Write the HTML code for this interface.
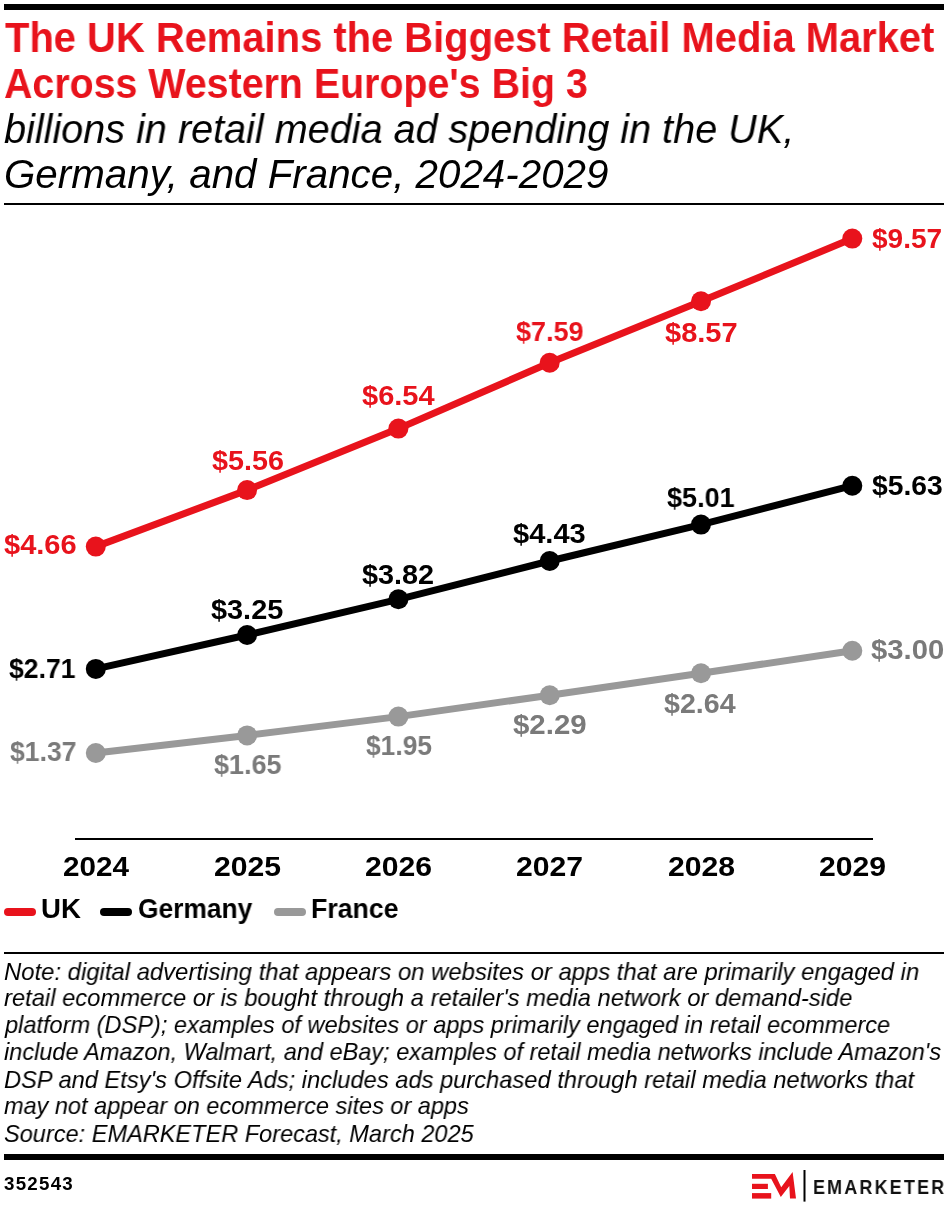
<!DOCTYPE html>
<html><head><meta charset="utf-8"><style>
html,body{margin:0;padding:0;background:#fff;}
body{width:948px;height:1206px;position:relative;overflow:hidden;font-family:"Liberation Sans",sans-serif;}
.a{position:absolute;}
.bar{position:absolute;background:#000;}
.t{position:absolute;line-height:1;white-space:nowrap;transform-origin:0 0;will-change:transform;}
.pill{position:absolute;height:8px;width:32px;border-radius:4px;top:908px;}
</style></head><body>
<div class="bar" style="left:4px;top:4px;width:940px;height:6px"></div>
<div class="bar" style="left:4px;top:203px;width:940px;height:2px"></div>
<svg class="a" style="left:0;top:0" width="948" height="1206" viewBox="0 0 948 1206">
<rect x="75" y="838" width="798" height="2" fill="#000"/>
<polyline points="95.8,546.6 247.1,490.1 398.4,428.6 549.7,362.8 701.0,301.3 852.3,238.6" fill="none" stroke="#E8131C" stroke-width="7" stroke-linejoin="round"/><circle cx="95.8" cy="546.6" r="10" fill="#E8131C"/><circle cx="247.1" cy="490.1" r="10" fill="#E8131C"/><circle cx="398.4" cy="428.6" r="10" fill="#E8131C"/><circle cx="549.7" cy="362.8" r="10" fill="#E8131C"/><circle cx="701.0" cy="301.3" r="10" fill="#E8131C"/><circle cx="852.3" cy="238.6" r="10" fill="#E8131C"/><polyline points="95.8,668.9 247.1,635.0 398.4,599.3 549.7,561.0 701.0,524.6 852.3,485.7" fill="none" stroke="#000000" stroke-width="7" stroke-linejoin="round"/><circle cx="95.8" cy="668.9" r="10" fill="#000000"/><circle cx="247.1" cy="635.0" r="10" fill="#000000"/><circle cx="398.4" cy="599.3" r="10" fill="#000000"/><circle cx="549.7" cy="561.0" r="10" fill="#000000"/><circle cx="701.0" cy="524.6" r="10" fill="#000000"/><circle cx="852.3" cy="485.7" r="10" fill="#000000"/><polyline points="95.8,753.0 247.1,735.4 398.4,716.6 549.7,695.2 701.0,673.3 852.3,650.7" fill="none" stroke="#999999" stroke-width="7" stroke-linejoin="round"/><circle cx="95.8" cy="753.0" r="10" fill="#999999"/><circle cx="247.1" cy="735.4" r="10" fill="#999999"/><circle cx="398.4" cy="716.6" r="10" fill="#999999"/><circle cx="549.7" cy="695.2" r="10" fill="#999999"/><circle cx="701.0" cy="673.3" r="10" fill="#999999"/><circle cx="852.3" cy="650.7" r="10" fill="#999999"/>
</svg>
<div class="t" style="font:bold 42px 'Liberation Sans';line-height:1;letter-spacing:0px;color:#E8131C;left:5.00px;top:17.00px;transform:scaleX(0.9504)">The UK Remains the Biggest Retail Media Market</div>
<div class="t" style="font:bold 42px 'Liberation Sans';line-height:1;letter-spacing:0px;color:#E8131C;left:4.06px;top:63.00px;transform:scaleX(0.9369)">Across Western Europe's Big 3</div>
<div class="t" style="font:italic 40px 'Liberation Sans';line-height:1;letter-spacing:0px;color:#000;left:4.01px;top:108.90px;transform:scaleX(0.9899)">billions in retail media ad spending in the UK,</div>
<div class="t" style="font:italic 40px 'Liberation Sans';line-height:1;letter-spacing:0px;color:#000;left:3.78px;top:154.40px;transform:scaleX(1.0080)">Germany, and France, 2024-2029</div>
<div class="t" style="font:italic 24px 'Liberation Sans';line-height:1;letter-spacing:0px;color:#000;left:3.81px;top:960.00px;transform:scaleX(0.9942)">Note: digital advertising that appears on websites or apps that are primarily engaged in</div>
<div class="t" style="font:italic 24px 'Liberation Sans';line-height:1;letter-spacing:0px;color:#000;left:3.81px;top:986.00px;transform:scaleX(0.9899)">retail ecommerce or is bought through a retailer's media network or demand-side</div>
<div class="t" style="font:italic 24px 'Liberation Sans';line-height:1;letter-spacing:0px;color:#000;left:4.80px;top:1013.00px;transform:scaleX(0.9817)">platform (DSP); examples of websites or apps primarily engaged in retail ecommerce</div>
<div class="t" style="font:italic 24px 'Liberation Sans';line-height:1;letter-spacing:0px;color:#000;left:3.82px;top:1040.00px;transform:scaleX(0.9800)">include Amazon, Walmart, and eBay; examples of retail media networks include Amazon's</div>
<div class="t" style="font:italic 24px 'Liberation Sans';line-height:1;letter-spacing:0px;color:#000;left:3.81px;top:1067.60px;transform:scaleX(0.9872)">DSP and Etsy's Offsite Ads; includes ads purchased through retail media networks that</div>
<div class="t" style="font:italic 24px 'Liberation Sans';line-height:1;letter-spacing:0px;color:#000;left:3.82px;top:1094.00px;transform:scaleX(0.9786)">may not appear on ecommerce sites or apps</div>
<div class="t" style="font:italic 24px 'Liberation Sans';line-height:1;letter-spacing:0px;color:#000;left:3.82px;top:1121.60px;transform:scaleX(0.9808)">Source: EMARKETER Forecast, March 2025</div>
<div class="t" style="font:bold 28px 'Liberation Sans';line-height:1;letter-spacing:0px;color:#E8131C;left:3.96px;top:531.00px;transform:scaleX(1.0368)">$4.66</div>
<div class="t" style="font:bold 28px 'Liberation Sans';line-height:1;letter-spacing:0px;color:#E8131C;left:211.57px;top:446.70px;transform:scaleX(1.0265)">$5.56</div>
<div class="t" style="font:bold 28px 'Liberation Sans';line-height:1;letter-spacing:0px;color:#E8131C;left:361.96px;top:382.00px;transform:scaleX(1.0362)">$6.54</div>
<div class="t" style="font:bold 28px 'Liberation Sans';line-height:1;letter-spacing:0px;color:#E8131C;left:516.04px;top:318.00px;transform:scaleX(0.9632)">$7.59</div>
<div class="t" style="font:bold 28px 'Liberation Sans';line-height:1;letter-spacing:0px;color:#E8131C;left:664.96px;top:319.00px;transform:scaleX(1.0368)">$8.57</div>
<div class="t" style="font:bold 28px 'Liberation Sans';line-height:1;letter-spacing:0px;color:#E8131C;left:872.00px;top:224.50px;transform:scaleX(1.0000)">$9.57</div>
<div class="t" style="font:bold 28px 'Liberation Sans';line-height:1;letter-spacing:0px;color:#000000;left:9.05px;top:655.00px;transform:scaleX(0.9485)">$2.71</div>
<div class="t" style="font:bold 28px 'Liberation Sans';line-height:1;letter-spacing:0px;color:#000000;left:210.97px;top:595.70px;transform:scaleX(1.0309)">$3.25</div>
<div class="t" style="font:bold 28px 'Liberation Sans';line-height:1;letter-spacing:0px;color:#000000;left:362.47px;top:560.60px;transform:scaleX(1.0294)">$3.82</div>
<div class="t" style="font:bold 28px 'Liberation Sans';line-height:1;letter-spacing:0px;color:#000000;left:513.46px;top:520.20px;transform:scaleX(1.0382)">$4.43</div>
<div class="t" style="font:bold 28px 'Liberation Sans';line-height:1;letter-spacing:0px;color:#000000;left:666.64px;top:483.60px;transform:scaleX(0.9647)">$5.01</div>
<div class="t" style="font:bold 28px 'Liberation Sans';line-height:1;letter-spacing:0px;color:#000000;left:872.39px;top:472.30px;transform:scaleX(1.0088)">$5.63</div>
<div class="t" style="font:bold 28px 'Liberation Sans';line-height:1;letter-spacing:0px;color:#7a7a7a;left:10.05px;top:737.50px;transform:scaleX(0.9485)">$1.37</div>
<div class="t" style="font:bold 28px 'Liberation Sans';line-height:1;letter-spacing:0px;color:#7a7a7a;left:214.04px;top:751.00px;transform:scaleX(0.9632)">$1.65</div>
<div class="t" style="font:bold 28px 'Liberation Sans';line-height:1;letter-spacing:0px;color:#7a7a7a;left:365.56px;top:732.00px;transform:scaleX(0.9412)">$1.95</div>
<div class="t" style="font:bold 28px 'Liberation Sans';line-height:1;letter-spacing:0px;color:#7a7a7a;left:512.95px;top:711.00px;transform:scaleX(1.0515)">$2.29</div>
<div class="t" style="font:bold 28px 'Liberation Sans';line-height:1;letter-spacing:0px;color:#7a7a7a;left:664.48px;top:689.50px;transform:scaleX(1.0217)">$2.64</div>
<div class="t" style="font:bold 28px 'Liberation Sans';line-height:1;letter-spacing:0px;color:#7a7a7a;left:871.46px;top:636.00px;transform:scaleX(1.0441)">$3.00</div>
<div class="t" style="font:bold 27px 'Liberation Sans';line-height:1;letter-spacing:0px;color:#000;left:62.50px;top:853.70px;transform:scaleX(1.0983)">2024</div>
<div class="t" style="font:bold 27px 'Liberation Sans';line-height:1;letter-spacing:0px;color:#000;left:213.78px;top:853.70px;transform:scaleX(1.1172)">2025</div>
<div class="t" style="font:bold 27px 'Liberation Sans';line-height:1;letter-spacing:0px;color:#000;left:365.08px;top:853.70px;transform:scaleX(1.1172)">2026</div>
<div class="t" style="font:bold 27px 'Liberation Sans';line-height:1;letter-spacing:0px;color:#000;left:516.38px;top:853.70px;transform:scaleX(1.1172)">2027</div>
<div class="t" style="font:bold 27px 'Liberation Sans';line-height:1;letter-spacing:0px;color:#000;left:667.68px;top:853.70px;transform:scaleX(1.1172)">2028</div>
<div class="t" style="font:bold 27px 'Liberation Sans';line-height:1;letter-spacing:0px;color:#000;left:818.98px;top:853.70px;transform:scaleX(1.1172)">2029</div>
<div class="t" style="font:bold 27px 'Liberation Sans';line-height:1;letter-spacing:0px;color:#000;left:41.16px;top:895.70px;transform:scaleX(1.0222)">UK</div>
<div class="t" style="font:bold 27px 'Liberation Sans';line-height:1;letter-spacing:0px;color:#000;left:138.22px;top:895.90px;transform:scaleX(0.9767)">Germany</div>
<div class="t" style="font:bold 27px 'Liberation Sans';line-height:1;letter-spacing:0px;color:#000;left:311.02px;top:895.90px;transform:scaleX(0.9884)">France</div>
<div class="t" style="font:bold 18px 'Liberation Sans';line-height:1;letter-spacing:1.2px;color:#000;left:4.16px;top:1174.90px;transform:scaleX(1.0406)">352543</div>
<div class="t" style="font:bold 20px 'Liberation Sans';line-height:1;letter-spacing:2.5px;color:#111;left:813.31px;top:1177.00px;transform:scaleX(0.8938)">EMARKETER</div>
<div class="pill" style="left:4px;background:#E8131C"></div>
<div class="pill" style="left:100px;background:#000"></div>
<div class="pill" style="left:274px;background:#999999"></div>
<div class="bar" style="left:4px;top:952px;width:940px;height:2px"></div>
<div class="bar" style="left:4px;top:1154px;width:940px;height:6px"></div>
<svg class="a" style="left:745px;top:1165px" width="70" height="40" viewBox="0 0 70 40">
<polygon fill="#E8131C" points="7,8.9 29.9,8.9 36.2,22.2 47.6,7 51,33.6 45,33.6 44.3,21 35.8,32.1 26.2,13.7 7,13.7"/>
<rect x="7" y="18.8" width="15.9" height="5.2" fill="#E8131C"/>
<rect x="7" y="28.1" width="19.2" height="5.5" fill="#E8131C"/>
<rect x="58.5" y="5" width="2" height="31.6" fill="#000"/>
</svg>
</body></html>
